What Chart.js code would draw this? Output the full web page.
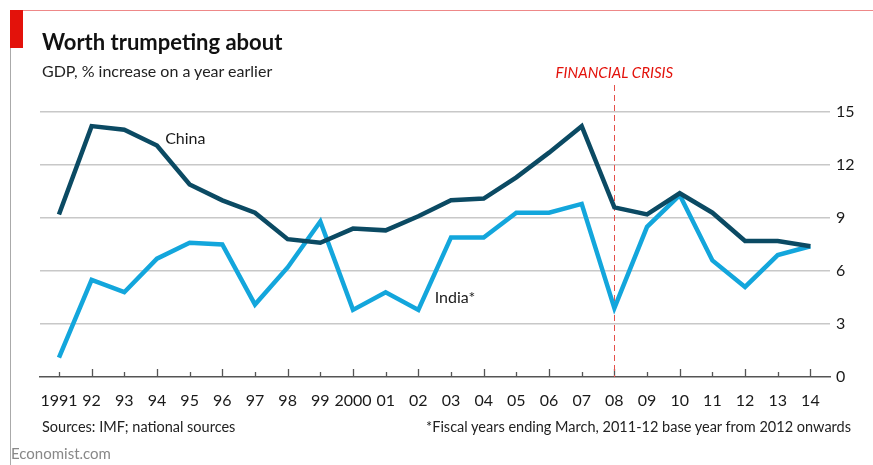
<!DOCTYPE html>
<html lang="en">
<head>
    <meta charset="UTF-8">
    <title>Worth trumpeting about</title>
    <script src="https://cdn.jsdelivr.net/npm/chart.js"></script>
    <style>
        body {
            margin: 0;
            width: 873px;
            height: 465px;
            position: relative;
            background: #fff;
            font-family: Lato, "Noto Sans", sans-serif;
            color: #1a1a1a;
            overflow: hidden;
        }
        #chartBox {
            position: absolute;
            left: 0;
            top: 0;
            width: 873px;
            height: 465px;
        }
        .frameTop {
            position: absolute;
            left: 10px; top: 10px;
            width: 863px; height: 1px;
            background: #e88;
        }
        .frameLeft {
            position: absolute;
            left: 10px; top: 10px;
            width: 1px; height: 455px;
            background: #aaa;
        }
        .tag {
            position: absolute;
            left: 10px; top: 10px;
            width: 13px; height: 38px;
            background: #e3120b;
        }
        .txt { position: absolute; white-space: nowrap; }
        #title { left: 42px; top: 28px; font-size: 22px; font-weight: bold; color: #111; }
        #subtitle { left: 42px; top: 61px; font-size: 16px; color: #222; }
        #sources { left: 42px; top: 418px; font-size: 14.5px; color: #222; }
        #note { right: 22px; top: 418px; font-size: 14.5px; color: #222; }
        #brand { left: 11px; top: 444px; font-size: 15px; color: #888; }
    </style>
</head>
<body>
    <div id="chartBox"><canvas id="gdpChart" width="873" height="465"></canvas></div>
    <div class="frameTop"></div>
    <div class="frameLeft"></div>
    <div class="tag"></div>
    <div class="txt" id="title">Worth trumpeting about</div>
    <div class="txt" id="subtitle">GDP, % increase on a year earlier</div>
    <div class="txt" id="sources">Sources: IMF; national sources</div>
    <div class="txt" id="note">*Fiscal years ending March, 2011-12 base year from 2012 onwards</div>
    <div class="txt" id="brand">Economist.com</div>

    <script>
        // data
        const years = ['1991', '92', '93', '94', '95', '96', '97', '98', '99', '2000', '01', '02',
                       '03', '04', '05', '06', '07', '08', '09', '10', '11', '12', '13', '14'];
        const china = [9.2, 14.2, 14.0, 13.1, 10.9, 10.0, 9.3, 7.8, 7.6, 8.4, 8.3, 9.1,
                       10.0, 10.1, 11.3, 12.7, 14.2, 9.6, 9.2, 10.4, 9.3, 7.7, 7.7, 7.4];
        const india = [1.1, 5.5, 4.8, 6.7, 7.6, 7.5, 4.1, 6.2, 8.8, 3.8, 4.8, 3.8,
                       7.9, 7.9, 9.3, 9.3, 9.8, 3.9, 8.5, 10.3, 6.6, 5.1, 6.9, 7.4];
        const yTicks = [0, 3, 6, 9, 12, 15];
        const crisisYear = '08';

        const darkBlue = '#0b4a63';
        const lightBlue = '#13a6dc';

        const toPoints = arr => arr.map((v, i) => ({ x: i, y: v }));

        // axis ticks (tall on even years), crisis line and labels
        const extras = {
            id: 'extras',
            beforeDatasetsDraw(chart) {
                const { ctx, chartArea, scales } = chart;
                const x = scales.x, y = scales.y;
                ctx.save();
                ctx.strokeStyle = '#555';
                ctx.lineWidth = 1.3;
                years.forEach((yr, i) => {
                    const px = Math.round(x.getPixelForValue(i)) + 0.5;
                    const len = (i % 2 === 1) ? 8 : 5;
                    ctx.beginPath();
                    ctx.moveTo(px, chartArea.bottom);
                    ctx.lineTo(px, chartArea.bottom - len);
                    ctx.stroke();
                });
                // financial crisis marker
                const cx = Math.round(x.getPixelForValue(years.indexOf(crisisYear))) + 0.5;
                ctx.strokeStyle = '#e5504a';
                ctx.lineWidth = 1;
                ctx.setLineDash([6, 4]);
                ctx.beginPath();
                ctx.moveTo(cx, 85);
                ctx.lineTo(cx, chartArea.bottom);
                ctx.stroke();
                ctx.setLineDash([]);
                ctx.restore();
            },
            afterDatasetsDraw(chart) {
                const { ctx, scales } = chart;
                const x = scales.x, y = scales.y;
                ctx.save();
                ctx.textBaseline = 'middle';
                ctx.font = '16px Lato, "Noto Sans", sans-serif';
                ctx.fillStyle = '#1a1a1a';
                ctx.textAlign = 'left';
                ctx.fillText('China', x.getPixelForValue(3.25), y.getPixelForValue(13.5));
                ctx.fillText('India*', x.getPixelForValue(11.5), y.getPixelForValue(4.47));
                ctx.fillStyle = '#e3120b';
                ctx.font = 'italic 15px Lato, "Noto Sans", sans-serif';
                ctx.textAlign = 'center';
                ctx.fillText('FINANCIAL CRISIS', x.getPixelForValue(years.indexOf(crisisYear)), 73);
                ctx.restore();
            }
        };

        const ctx = document.getElementById('gdpChart').getContext('2d');
        const gdpChart = new Chart(ctx, {
            type: 'line',
            data: {
                datasets: [
                    {
                        label: 'China',
                        data: toPoints(china),
                        borderColor: darkBlue,
                        borderWidth: 4.5,
                        pointRadius: 0,
                        tension: 0,
                        borderJoinStyle: 'miter'
                    },
                    {
                        label: 'India*',
                        data: toPoints(india),
                        borderColor: lightBlue,
                        borderWidth: 4.5,
                        pointRadius: 0,
                        tension: 0,
                        borderJoinStyle: 'miter'
                    }
                ]
            },
            options: {
                responsive: false,
                animation: false,
                layout: { padding: { left: 40, top: 112, right: 0, bottom: 0 } },
                plugins: {
                    legend: { display: false },
                    tooltip: { enabled: false }
                },
                scales: {
                    x: {
                        type: 'linear',
                        min: -0.58,
                        max: 23.6,
                        afterBuildTicks: s => { s.ticks = years.map((_, i) => ({ value: i })); },
                        afterFit: s => { s.height = 88; },
                        grid: { display: false },
                        border: { display: true, color: '#555', width: 1.5 },
                        ticks: {
                            autoSkip: false,
                            maxRotation: 0,
                            padding: 6,
                            color: '#1a1a1a',
                            font: { family: 'Lato, "Noto Sans", sans-serif', size: 16 },
                            callback: v => years[v]
                        }
                    },
                    y: {
                        position: 'right',
                        min: 0,
                        max: 15,
                        afterBuildTicks: s => { s.ticks = yTicks.map(v => ({ value: v })); },
                        afterFit: s => { s.width = 43; },
                        border: { display: false },
                        grid: {
                            drawTicks: false,
                            color: c => c.tick.value === 0 ? 'rgba(0,0,0,0)' : '#c8c8c8',
                            lineWidth: 1.5
                        },
                        ticks: {
                            padding: 6,
                            color: '#1a1a1a',
                            font: { family: 'Lato, "Noto Sans", sans-serif', size: 16 }
                        }
                    }
                }
            },
            plugins: [extras]
        });
    </script>
</body>
</html>
